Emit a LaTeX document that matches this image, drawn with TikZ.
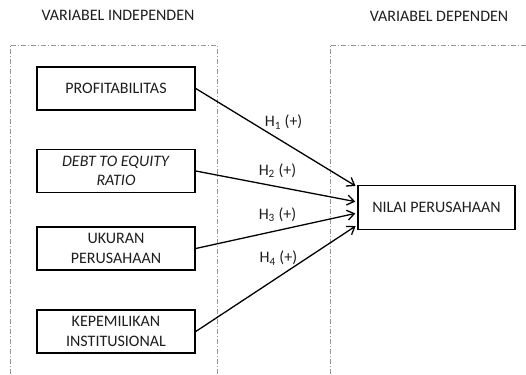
\documentclass[tikz,border=0pt]{standalone}
\usepackage{fontspec}
\setmainfont{Carlito}
\usepackage{tikz}
\usetikzlibrary{arrows.meta, positioning}
\definecolor{framegray}{RGB}{150, 150, 150}
\definecolor{textdark}{RGB}{30, 30, 30}

\begin{document}
\begin{tikzpicture}[
    x=1pt, y=-1pt,
    varbox/.style={draw, line width=1.5pt, minimum width=158pt, minimum height=43pt, font=\fontsize{16}{19.5}\selectfont, text=textdark, align=center, inner sep=2pt},
    arrow/.style={-{Straight Barb[length=7pt, width=10pt]}, line width=1.3pt, shorten >=2pt},
    label/.style={font=\fontsize{16}{18}\selectfont, text=textdark, inner sep=1pt},
    title/.style={font=\fontsize{16}{18}\selectfont, text=textdark},
    frame/.style={draw=framegray, line width=0.8pt, dash pattern=on 5pt off 2pt on 1pt off 2pt}
]
    \useasboundingbox[fill=white] (0,0) rectangle (526,374);

    % Group frames
    \draw[frame] (10,374) -- (10,45) -- (217,45) -- (217,374);
    \draw[frame] (330,374) -- (330,45) -- (526,45);

    % Group titles
    \node[title] (indep) at (118,15) {VARIABEL INDEPENDEN};
    \node[title] (dep) at (439,16) {VARIABEL DEPENDEN};

    % Independent variables
    \node[varbox] (profit) at (116,88.5) {PROFITABILITAS};
    \node[varbox, below=38pt of profit] (der) {\textit{DEBT TO EQUITY}\\\textit{RATIO}};
    \node[varbox, below=33pt of der] (ukuran) {UKURAN\\PERUSAHAAN};
    \node[varbox, below=38.5pt of ukuran] (kepemilikan) {KEPEMILIKAN\\INSTITUSIONAL};

    % Dependent variable
    \node[varbox, minimum width=157pt, minimum height=44pt] (nilai) at (436.5,207.5) {NILAI PERUSAHAAN};

    % Hypotheses
    \draw[arrow] (profit.east) -- ([yshift=20.5pt]nilai.west) node[label, pos=0.544, yshift=20pt] (h1) {H\textsubscript{1} (+)};
    \draw[arrow] (der.east) -- ([yshift=5.5pt]nilai.west) node[label, pos=0.506, yshift=16pt] (h2) {H\textsubscript{2} (+)};
    \draw[arrow] (ukuran.east) -- ([yshift=-5.5pt]nilai.west) node[label, pos=0.506, yshift=16pt] (h3) {H\textsubscript{3} (+)};
    \draw[arrow] (kepemilikan.east) -- ([yshift=-17.5pt]nilai.west) node[label, pos=0.512, yshift=19pt] (h4) {H\textsubscript{4} (+)};
\end{tikzpicture}
\end{document}
